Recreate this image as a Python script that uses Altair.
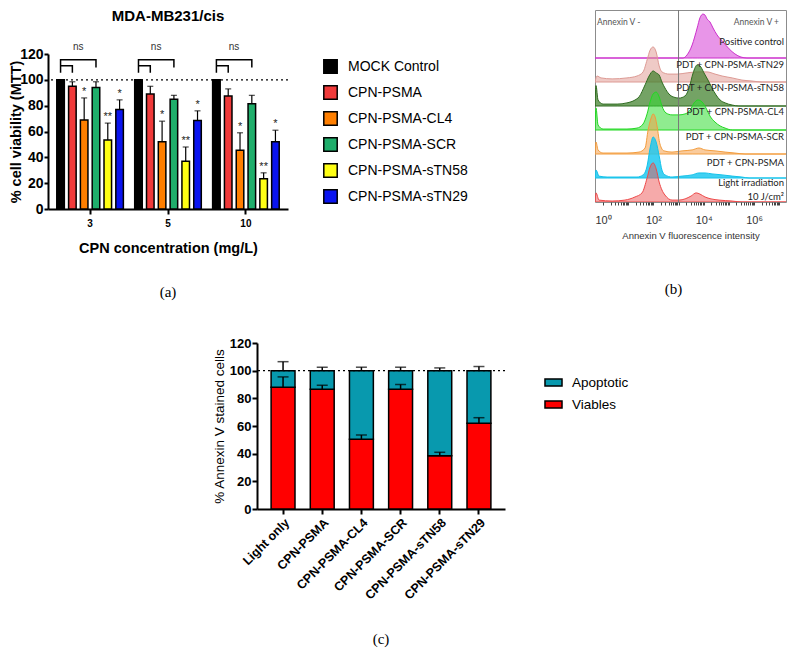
import altair as alt
import pandas as pd

FONT = "Liberation Sans"

# ---------------- Panel (a): MTT viability ----------------
conc_levels = ["3", "5", "10"]
series_a = ["MOCK Control", "CPN-PSMA", "CPN-PSMA-CL4", "CPN-PSMA-SCR", "CPN-PSMA-sTN58", "CPN-PSMA-sTN29"]
colors_a = ["#000000", "#f03a3a", "#ff7f00", "#1fae6b", "#ffff14", "#0a14f0"]
viab_mock = [100, 100, 100]
viab_psma = [95, 89, 87.5]
viab_cl4 = [69, 52, 45.5]
viab_scr = [94, 85, 81.5]
viab_stn58 = [53.5, 37, 23.5]
viab_stn29 = [77, 68.5, 52]
err_mock = [0, 0, 0]
err_psma = [3.5, 6, 5.5]
err_cl4 = [17, 16, 13.5]
err_scr = [4.5, 3, 6.5]
err_stn58 = [13, 11, 4.5]
err_stn29 = [7.5, 7.5, 9]
sig_a = ["", "", "*", "", "**", "*"]
# comparison brackets (series, y) drawn in every concentration group
bracket_outer_series = ["MOCK Control", "MOCK Control", "CPN-PSMA-SCR", "CPN-PSMA-SCR"]
bracket_outer_y = [105.5, 115.5, 115.5, 109.5]
bracket_inner_series = ["MOCK Control", "CPN-PSMA", "CPN-PSMA"]
bracket_inner_y = [111, 111, 105.5]
ns_y = 125.5
title_a = "MDA-MB231/cis"
title_a_y = 149.5

# ---------------- Panel (b): Annexin V histograms ----------------
rows_b = ["Positive control", "PDT + CPN-PSMA-sTN29", "PDT + CPN-PSMA-sTN58", "PDT + CPN-PSMA-CL4",
          "PDT + CPN-PSMA-SCR", "PDT + CPN-PSMA", "Light irradiation 10 J/cm²"]
pos_log = [-0.32, 3.18, 3.34, 3.54, 3.74, 3.85, 3.97, 4.05, 4.13, 4.25, 4.37, 4.53, 4.77, 5.01, 5.24, 5.48, 5.72, 7.27]
pos_h = [0, 0, .13, .54, 1.25, 1.67, 1.83, 1.79, 1.63, 1.5, 1.25, .96, .67, .38, .17, .04, 0, 0]
stn29_log = [-0.32, -0.24, -0.08, 0.36, 0.95, 1.35, 1.59, 1.75, 1.87, 1.99, 2.11, 2.23, 2.34, 2.62, 2.94, 3.34,
             3.74, 4.13, 4.45, 4.73, 5.13, 5.52, 5.92, 6.32, 7.27]
stn29_h = [0, .25, .17, .13, .17, .25, .42, .92, 1.33, 1.46, 1.25, .67, .42, .33, .33, .38, .42, .42, .33, .25,
           .17, .08, .04, 0, 0]
stn58_log = [-0.32, -0.28, -0.2, 0, 0.56, 0.95, 1.27, 1.43, 1.67, 1.83, 1.99, 2.11, 2.23, 2.34, 2.46, 2.62, 2.78,
             3.02, 3.26, 3.42, 3.58, 3.74, 3.85, 4.01, 4.17, 4.33, 4.49, 4.65, 4.85, 5.13, 5.40, 7.27]
stn58_h = [0, .85, .25, .08, .08, .13, .25, .38, .88, 1.25, 1.46, 1.38, 1.29, 1.0, .75, .5, .38, .33, .42, .75,
           1.38, 1.71, 1.67, 1.38, 1.08, .75, .46, .25, .13, .04, 0, 0]
cl4_log = [-0.32, -0.28, -0.2, 0, 0.95, 1.35, 1.59, 1.75, 1.87, 1.99, 2.11, 2.23, 2.34, 2.5, 2.74, 3.02, 3.26,
           3.46, 3.62, 3.77, 3.93, 4.09, 4.25, 4.45, 4.65, 4.85, 5.13, 7.27]
cl4_h = [0, .92, .21, .04, .04, .08, .25, .67, 1.17, 1.5, 1.58, 1.38, 1.0, .71, .63, .63, .67, .83, 1.13, 1.25,
         1.17, .92, .58, .33, .17, .08, 0, 0]
scr_log = [-0.32, -0.28, -0.2, 0, 0.95, 1.43, 1.67, 1.79, 1.91, 1.99, 2.07, 2.15, 2.26, 2.42, 2.74, 3.14, 3.54,
           3.81, 4.05, 4.45, 4.85, 5.24, 5.64, 7.27]
scr_h = [0, .5, .17, .04, .04, .08, .25, 1.0, 1.5, 1.67, 1.54, 1.13, .42, .13, .08, .13, .17, .25, .17, .13, .08,
         .04, 0, 0]
psma_log = [-0.32, -0.28, -0.16, 0.16, 1.35, 1.59, 1.75, 1.87, 1.99, 2.11, 2.23, 2.34, 2.46, 2.74, 3.14, 3.54,
            3.81, 4.05, 4.33, 4.73, 5.13, 5.52, 5.8, 7.27]
psma_h = [0, .33, .08, .04, .04, .13, .5, 1.25, 1.71, 1.5, .92, .33, .13, .04, .08, .13, .21, .21, .17, .13, .08,
          .04, 0, 0]
light_log = [-0.32, -0.28, -0.16, 0.36, 0.87, 1.27, 1.55, 1.75, 1.87, 1.99, 2.11, 2.23, 2.34, 2.46, 2.74, 3.02,
             3.26, 3.5, 3.7, 3.85, 4.05, 4.29, 4.61, 5.13, 5.52, 7.27]
light_h = [0, .38, .08, .04, .08, .21, .38, 1.0, 1.46, 1.63, 1.38, .83, .5, .29, .08, .08, .13, .25, .38, .33,
           .21, .13, .08, .04, 0, 0]
hist_logs = [pos_log, stn29_log, stn58_log, cl4_log, scr_log, psma_log, light_log]
hist_hs = [pos_h, stn29_h, stn58_h, cl4_h, scr_h, psma_h, light_h]
strokes_b = ["#cc2fcc", "#dd9a94", "#2f6b20", "#22d822", "#f39c3c", "#12c2ea", "#ee4848"]
fills_b = ["#d94fd9", "#e0958d", "#3f7f2a", "#33dd33", "#f5a04a", "#1ec8f0", "#ee5555"]
opac_b = [0.6, 0.5, 0.72, 0.55, 0.55, 0.85, 0.5]
label_text_b = ["Positive control", "PDT + CPN-PSMA-sTN29", "PDT + CPN-PSMA-sTN58", "PDT + CPN-PSMA-CL4",
                "PDT + CPN-PSMA-SCR", "PDT + CPN-PSMA", "Light irradiation", "10 J/cm²"]
label_y_b = [6.67, 5.71, 4.74, 3.76, 2.71, 1.62, 0.78, 0.22]
gate_log = 3.0
gate_text = ["Annexin V -", "Annexin V +"]
gate_text_log = [-0.24, 6.99]

# ---------------- Panel (c): stacked Annexin V ----------------
cats_c = ["Light only", "CPN-PSMA", "CPN-PSMA-CL4", "CPN-PSMA-SCR", "CPN-PSMA-sTN58", "CPN-PSMA-sTN29"]
viables_c = [88, 86.5, 50.5, 86.5, 38.5, 62]
viables_err_c = [7.5, 3, 3, 3.5, 2.5, 4]
apoptotic_c = [12, 13.5, 49.5, 13.5, 61.5, 38]
apoptotic_err_c = [6.5, 2.5, 2.5, 2.5, 2, 3]
status_c = ["Apoptotic", "Viables"]
colors_c = ["#0899ae", "#ff0000"]

# ======================= build panel (a) =======================
vals = [viab_mock, viab_psma, viab_cl4, viab_scr, viab_stn58, viab_stn29]
errs = [err_mock, err_psma, err_cl4, err_scr, err_stn58, err_stn29]
rows = []
for si, s in enumerate(series_a):
    for gi, g in enumerate(conc_levels):
        v = vals[si][gi]
        e = errs[si][gi]
        rows.append({"conc": g, "series": s, "value": v, "hi": v + e, "err": e, "sig": sig_a[si]})
df_a = pd.DataFrame(rows)

br = []
for g in conc_levels:
    for k, (s, y) in enumerate(zip(bracket_outer_series, bracket_outer_y)):
        br.append({"conc": g, "series": s, "yb": y, "grp": g + "o", "k": k})
    for k, (s, y) in enumerate(zip(bracket_inner_series, bracket_inner_y)):
        br.append({"conc": g, "series": s, "yb": y, "grp": g + "i", "k": k})
df_br = pd.DataFrame(br)
df_ns = pd.DataFrame({"conc": conc_levels, "series": ["CPN-PSMA-CL4"] * 3, "yb": [ns_y] * 3, "t": ["ns"] * 3})
df_title = pd.DataFrame({"conc": [conc_levels[1]], "yb": [title_a_y], "t": [title_a]})

H_A = 199
axis_y_a = alt.Axis(values=[0, 20, 40, 60, 80, 100, 120], title="% cell viability (MTT)", grid=False,
                    labelFont=FONT, labelFontSize=14, labelFontWeight="bold", labelColor="black",
                    titleFont=FONT, titleFontSize=14.5, titleFontWeight="bold", titleColor="black",
                    domainColor="black", domainWidth=2, tickColor="black", tickWidth=2, tickSize=4,
                    labelPadding=1, titlePadding=-4)
axis_x_a = alt.Axis(title="CPN concentration (mg/L)", labelAngle=0, grid=False,
                    labelFont=FONT, labelFontSize=10, labelFontWeight="bold", labelColor="black",
                    titleFont=FONT, titleFontSize=14.5, titleFontWeight="bold", titleColor="black",
                    domainColor="black", domainWidth=2, tickColor="black", tickWidth=2, tickSize=5,
                    labelPadding=4, titlePadding=13)
sc_y_a = alt.Scale(domain=[0, 120], nice=False, range=[H_A, 44])
sc_x_a = alt.Scale(domain=conc_levels, paddingInner=0, paddingOuter=0.04)
sc_xo_a = alt.Scale(domain=series_a, paddingInner=0.36, paddingOuter=0.48)


def xa():
    return alt.X("conc:N", scale=sc_x_a, axis=axis_x_a)


def xoa():
    return alt.XOffset("series:N", scale=sc_xo_a)


def ya(f):
    return alt.Y(f + ":Q", scale=sc_y_a, axis=axis_y_a)


bars_a = alt.Chart(df_a).mark_bar(stroke="black", strokeWidth=1.5).encode(
    x=xa(), xOffset=xoa(), y=ya("value"),
    color=alt.Color("series:N", scale=alt.Scale(domain=series_a, range=colors_a),
                    legend=alt.Legend(title=None, orient="none", legendX=275, legendY=49, symbolType="square",
                                      symbolSize=180, symbolStrokeColor="black", symbolStrokeWidth=1.5,
                                      symbolOpacity=1, labelFont=FONT, labelFontSize=14, labelColor="black",
                                      rowPadding=5, labelOffset=10, padding=0, labelLimit=0)))
errdf = df_a[df_a["err"] > 0]
err_a = alt.Chart(errdf).mark_rule(color="black", strokeWidth=1.2).encode(
    x=xa(), xOffset=xoa(), y=ya("value"), y2="hi:Q")
cap_a = alt.Chart(errdf).mark_tick(color="black", thickness=1.2, size=6).encode(
    x=xa(), xOffset=xoa(), y=ya("hi"))
sig_txt = alt.Chart(df_a[df_a["sig"] != ""]).mark_text(font=FONT, fontSize=11, baseline="bottom",
                                                      color="#222", dy=-1).encode(
    x=xa(), xOffset=xoa(), y=ya("hi"), text="sig:N")
ref_a = alt.Chart(pd.DataFrame({"r": [100]})).mark_rule(color="black", strokeDash=[2, 3], strokeWidth=1.3).encode(
    y=ya("r"))
brk_a = alt.Chart(df_br).mark_line(color="black", strokeWidth=1.5).encode(
    x=xa(), xOffset=xoa(), y=ya("yb"), detail="grp:N", order="k:Q")
ns_a = alt.Chart(df_ns).mark_text(font=FONT, fontSize=10, color="#333", dx=-6).encode(
    x=xa(), xOffset=xoa(), y=ya("yb"), text="t:N")
ttl_a = alt.Chart(df_title).mark_text(font=FONT, fontSize=15, fontWeight="bold", color="black").encode(
    x=xa(), y=ya("yb"), text="t:N")


def lab(t, off, dx=0):
    return alt.TitleParams(t, orient="bottom", font="Liberation Serif", fontSize=15, fontWeight="normal",
                           color="black", anchor="middle", offset=off, dx=dx)


panel_a = alt.layer(bars_a, ref_a, err_a, cap_a, sig_txt, brk_a, ns_a, ttl_a).properties(
    width=240, height=H_A, title=lab("(a)", 30))

# ======================= build panel (b) =======================
sc_x_b = alt.Scale(type="log", domain=[10 ** -0.32, 10 ** 7.27], nice=False)
sc_y_b = alt.Scale(domain=[0, 8], nice=False, zero=False)
tick_vals = [m * 10.0 ** d for d in range(0, 8) for m in range(1, 10) if m * 10.0 ** d <= 10 ** 7.27]
axis_x_b = alt.Axis(values=tick_vals, grid=False, domain=False, tickSize=3, tickColor="#444",
                    labelExpr="datum.value == 1 ? '10⁰' : datum.value == 100 ? '10²' : datum.value == 10000 ? '10⁴' : datum.value == 1000000 ? '10⁶' : ''",
                    labelFont=FONT, labelFontSize=11, labelColor="#333", labelOverlap=False, labelFlush=False,
                    labelPadding=9, title="Annexin V fluorescence intensity", titleFont=FONT, titleFontSize=9.5,
                    titleFontWeight="normal", titleColor="#333", titlePadding=5)


def xb(f):
    return alt.X(f + ":Q", scale=sc_x_b, axis=axis_x_b)


def yb(f):
    return alt.Y(f + ":Q", scale=sc_y_b, axis=None)


b_layers = []
n_b = len(rows_b)
for i, name in enumerate(rows_b):
    base = n_b - 1 - i
    sub = pd.DataFrame({"I": [10 ** v for v in hist_logs[i]],
                        "top": [base + h for h in hist_hs[i]],
                        "base": [base] * len(hist_hs[i])})
    b_layers.append(alt.Chart(sub).mark_area(fill=fills_b[i], fillOpacity=opac_b[i], stroke=strokes_b[i],
                                             strokeWidth=1, interpolate="monotone", clip=True).encode(
        x=xb("I"), y=yb("top"), y2="base:Q"))

gate_rule = alt.Chart(pd.DataFrame({"I": [10 ** gate_log]})).mark_rule(color="#777", strokeWidth=1).encode(
    x=xb("I"))
lab_df = pd.DataFrame({"I": [10 ** 7.19] * len(label_text_b), "y": label_y_b, "t": label_text_b})
labels_b = alt.Chart(lab_df).mark_text(font="Lato", fontSize=9.5, color="#222", align="right").encode(
    x=xb("I"), y=yb("y"), text="t:N")
gate_df = pd.DataFrame({"I": [10 ** v for v in gate_text_log], "y": [7.51, 7.51], "t": gate_text})
gate_l = alt.Chart(gate_df.iloc[[0]]).mark_text(font="Lato", fontSize=8.5, color="#555", align="left").encode(
    x=xb("I"), y=yb("y"), text="t:N")
gate_r = alt.Chart(gate_df.iloc[[1]]).mark_text(font="Lato", fontSize=8.5, color="#555", align="right").encode(
    x=xb("I"), y=yb("y"), text="t:N")

panel_b = alt.layer(*b_layers, gate_rule, labels_b, gate_l, gate_r).properties(
    width=191, height=192, view=alt.ViewBackground(stroke="#8c8c8c", strokeWidth=1, strokeOpacity=1),
    title=lab("(b)", 42, -17))

# ======================= build panel (c) =======================
rows_c = []
for i, c in enumerate(cats_c):
    rows_c.append({"cat": c, "status": "Viables", "lo": 0, "hi": viables_c[i],
                   "ehi": viables_c[i] + viables_err_c[i]})
    rows_c.append({"cat": c, "status": "Apoptotic", "lo": viables_c[i], "hi": viables_c[i] + apoptotic_c[i],
                   "ehi": viables_c[i] + apoptotic_c[i] + apoptotic_err_c[i]})
df_c = pd.DataFrame(rows_c)

sc_x_c = alt.Scale(domain=cats_c, paddingInner=0.39, paddingOuter=0.36)
sc_y_c = alt.Scale(domain=[0, 120], nice=False)
axis_x_c = alt.Axis(title=None, labelAngle=315, grid=False, labelFont=FONT, labelFontSize=12.5,
                    labelFontWeight="bold", labelColor="black", domainColor="black", domainWidth=2,
                    tickColor="black", tickWidth=2, tickSize=5, labelPadding=2, labelLimit=0)
axis_y_c = alt.Axis(values=[0, 20, 40, 60, 80, 100, 120], title="% Annexin V stained cells", grid=False,
                    labelFont=FONT, labelFontSize=13, labelFontWeight="bold", labelColor="black",
                    titleFont=FONT, titleFontSize=13.5, titleFontWeight="normal", titleColor="black",
                    domainColor="black", domainWidth=2, tickColor="black", tickWidth=2, tickSize=5,
                    labelPadding=1, titlePadding=3)


def xc():
    return alt.X("cat:N", scale=sc_x_c, axis=axis_x_c)


def yc(f):
    return alt.Y(f + ":Q", scale=sc_y_c, axis=axis_y_c)


bars_c = alt.Chart(df_c).mark_bar(stroke="black", strokeWidth=1.5).encode(
    x=xc(), y=yc("lo"), y2="hi:Q",
    color=alt.Color("status:N", scale=alt.Scale(domain=status_c, range=colors_c),
                    legend=alt.Legend(title=None, orient="none", legendX=287, legendY=30,
                                      symbolType="M-1,-0.42H1V0.42H-1Z", symbolSize=290,
                                      symbolStrokeColor="black", symbolStrokeWidth=1.5, symbolOpacity=1,
                                      labelFont=FONT, labelFontSize=13.5, labelColor="black",
                                      rowPadding=5, labelOffset=9, padding=0, labelLimit=0)))
err_c = alt.Chart(df_c).mark_rule(color="black", strokeWidth=1.5).encode(x=xc(), y=yc("hi"), y2="ehi:Q")
cap_c = alt.Chart(df_c).mark_tick(color="black", thickness=1.5, size=11).encode(x=xc(), y=yc("ehi"))
ref_c = alt.Chart(pd.DataFrame({"r": [100]})).mark_rule(color="black", strokeDash=[2, 3], strokeWidth=1.3).encode(
    y=yc("r"))

panel_c = alt.layer(bars_c, err_c, cap_c, ref_c).properties(width=248, height=166, title=lab("(c)", 31))

# ======================= assemble =======================
spacer = alt.Chart(pd.DataFrame({"v": [0]})).mark_point(opacity=0).encode(
    x=alt.X("v:Q", axis=None), y=alt.Y("v:Q", axis=None)).properties(width=164, height=10)

top = alt.hconcat(panel_a, panel_b, spacing=126).resolve_scale(color="independent")
bottom = alt.hconcat(spacer, panel_c, spacing=0).resolve_scale(color="independent")
chart = alt.vconcat(top, bottom, spacing=37).resolve_scale(color="independent").properties(
    padding=0, background="white").configure_view(strokeWidth=0)

chart.save("out.html", embed_options={"renderer": "svg", "actions": False})
